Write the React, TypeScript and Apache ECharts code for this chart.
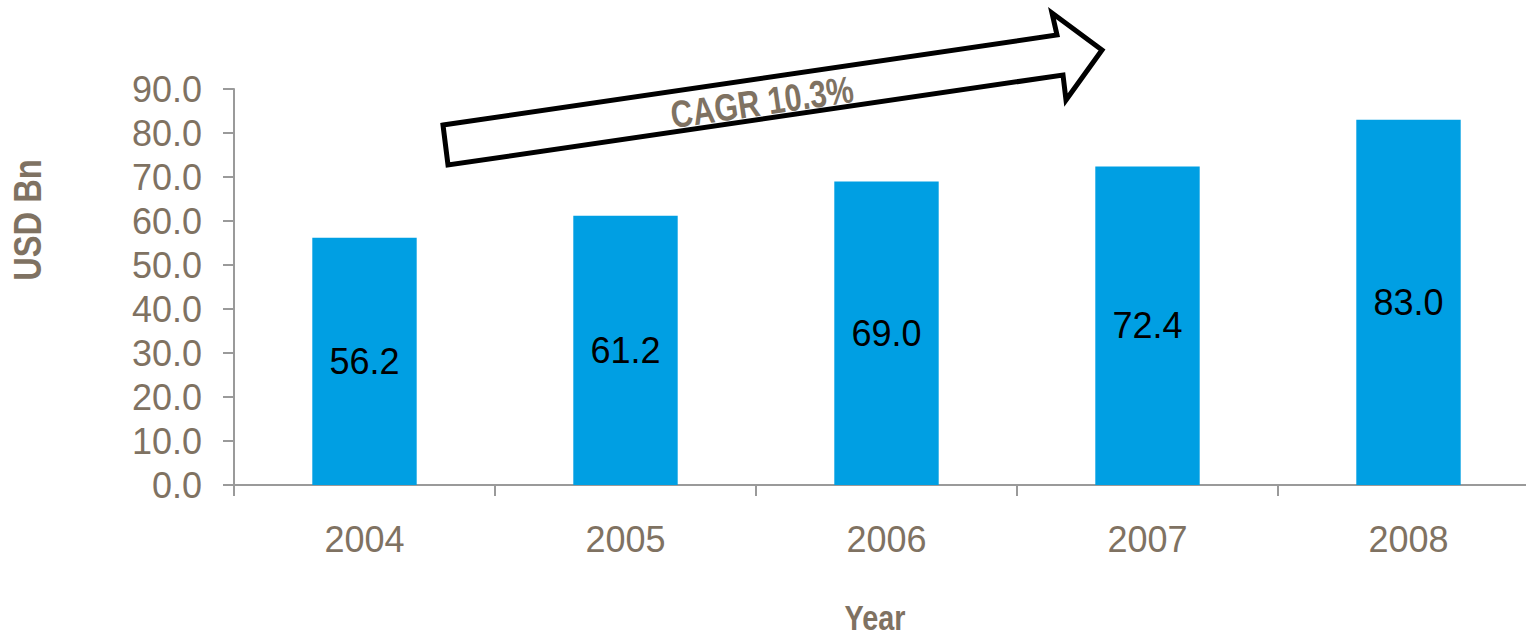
import React, { useEffect, useRef } from "react";
import * as echarts from "echarts";

const years = ["2004", "2005", "2006", "2007", "2008"];
const values = [56.2, 61.2, 69.0, 72.4, 83.0];
const yMin = 0;
const yMax = 90;
const yStep = 10;
const cagrLabel = "CAGR 10.3%";
const yName = "USD Bn";
const xName = "Year";

const FONT = "'Liberation Sans Narrow', 'Arial Narrow', 'Liberation Sans', Arial, sans-serif";
const BROWN = "#7f7262";
const BLUE = "#009fe3";
const AXIS = "#9a9a9a";

const CHART_W = 1545;
const CHART_H = 639;

export default function App() {
  const ref = useRef<HTMLDivElement>(null);
  useEffect(() => {
    document.body.style.margin = "0";
    const chart = echarts.init(ref.current!, null, { renderer: "svg" });
    const angle = (8.3 * Math.PI) / 180;
    chart.setOption({
      animation: false,
      grid: {
        left: 234,
        top: 89,
        width: 1305,
        height: 396,
        containLabel: false,
        outerBoundsMode: "none",
      },
      xAxis: {
        type: "category",
        data: years,
        axisLine: { lineStyle: { color: AXIS, width: 2 } },
        axisTick: { show: true, length: 11, lineStyle: { color: AXIS, width: 2 } },
        axisLabel: { color: BROWN, fontFamily: FONT, fontSize: 36, margin: 36 },
      },
      yAxis: {
        type: "value",
        min: yMin,
        max: yMax,
        interval: yStep,
        splitLine: { show: false },
        axisLine: { show: true, lineStyle: { color: AXIS, width: 2 } },
        axisTick: { show: true, length: 11, lineStyle: { color: AXIS, width: 2 } },
        axisLabel: {
          color: BROWN,
          fontFamily: FONT,
          fontSize: 36,
          margin: 32,
          formatter: (v: number) => v.toFixed(1),
        },
      },
      series: [
        {
          type: "bar",
          data: values,
          barWidth: "40%",
          itemStyle: { color: BLUE },
          label: {
            show: true,
            position: "inside",
            color: "#000",
            fontFamily: FONT,
            fontSize: 36,
            formatter: (p: any) => Number(p.value).toFixed(1),
          },
        },
      ],
      graphic: [
        {
          type: "polygon",
          shape: {
            points: [
              [443, 125],
              [1057, 35],
              [1052, 13],
              [1102, 50],
              [1066, 100],
              [1063, 75],
              [448, 165],
            ],
          },
          style: { fill: "#fff", stroke: "#000", lineWidth: 5, lineJoin: "miter" },
          z: 10,
        },
        {
          type: "text",
          x: 762,
          y: 102,
          rotation: angle,
          scaleX: 0.8,
          z: 11,
          style: {
            text: cagrLabel,
            fill: BROWN,
            font: `bold 38px ${FONT}`,
            align: "center",
            verticalAlign: "middle",
          },
        },
        {
          type: "text",
          x: 28,
          y: 220,
          rotation: Math.PI / 2,
          scaleX: 0.86,
          style: {
            text: yName,
            fill: BROWN,
            font: `bold 38px ${FONT}`,
            align: "center",
            verticalAlign: "middle",
          },
        },
        {
          type: "text",
          x: 875,
          y: 617,
          scaleX: 0.8,
          style: {
            text: xName,
            fill: BROWN,
            font: `bold 36px ${FONT}`,
            align: "center",
            verticalAlign: "middle",
          },
        },
      ],
    });
    return () => chart.dispose();
  }, []);
  return (
    <div style={{ width: 1526, height: 639, overflow: "hidden" }}>
      <div ref={ref} style={{ width: CHART_W, height: CHART_H }} />
    </div>
  );
}
